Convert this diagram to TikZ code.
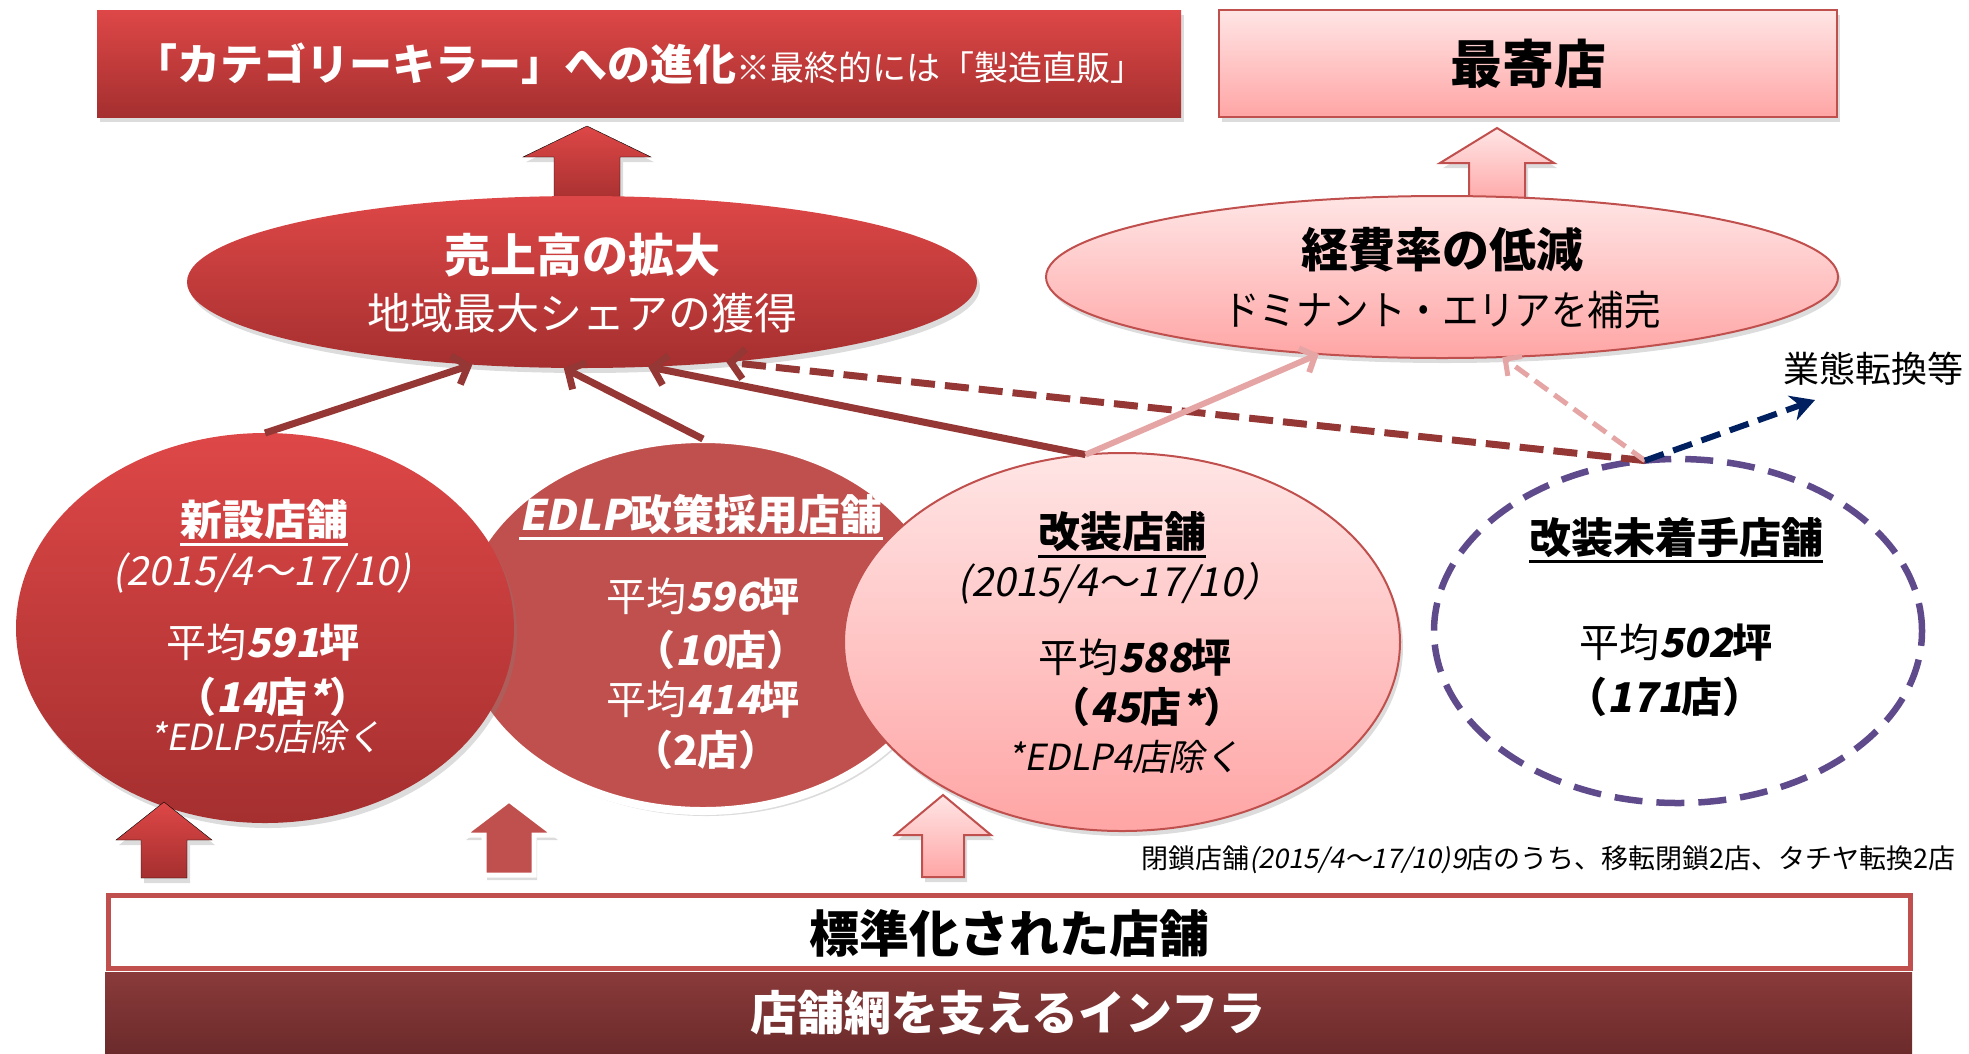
\documentclass[tikz,border=0pt]{standalone}
\usepackage{fontspec}
\setmainfont{Noto Sans CJK JP}[AutoFakeSlant=0.2]
\newfontfamily\slfont{Noto Sans CJK JP}[FakeSlant=0.2]
\usetikzlibrary{shapes.geometric,arrows.meta,shadows}

\definecolor{dred}{HTML}{C0504D}
\definecolor{rtop}{HTML}{DE4747}
\definecolor{rbot}{HTML}{A52F2F}
\definecolor{ptop}{HTML}{FFE5E5}
\definecolor{pbot}{HTML}{FFA5A5}
\definecolor{conn}{HTML}{953735}
\definecolor{pconn}{HTML}{E6A5A5}
\definecolor{purp}{HTML}{5F4B8B}
\definecolor{navy}{HTML}{002060}
\definecolor{infra}{HTML}{652727}
\definecolor{infratop}{HTML}{8A3A3A}

\newcommand\fsz[1]{\fontsize{#1}{#1}\selectfont}
\newcommand\bsl[1]{{\slfont\bfseries #1}}
\newcommand\ulw[1]{\setbox0=\hbox{#1}\rlap{\copy0}\rule[-0.24em]{\wd0}{0.07em}}
\newcommand\blkup[7]{\draw[#1] (#2,#3) -- (#2+#6,#4) -- (#2+#7,#4) -- (#2+#7,#5) -- (#2-#7,#5) -- (#2-#7,#4) -- (#2-#6,#4) -- cycle;}

\begin{document}
\begin{tikzpicture}[x=1pt,y=-1pt,
  every node/.style={inner sep=0pt, outer sep=0pt},
  redfill/.style={top color=rtop, bottom color=rbot},
  pinkfill/.style={top color=ptop, bottom color=pbot, draw=dred, line width=2pt},
  shadowed/.style={drop shadow={opacity=0.28, shadow xshift=3pt, shadow yshift=-5pt}},
  csolid/.style={draw=conn, line width=7pt, -{Straight Barb[length=13pt,width=30pt]}},
  cdash/.style={draw=conn, line width=7pt, dash pattern=on 24pt off 10pt, -{Straight Barb[length=13pt,width=30pt]}},
  psolid/.style={draw=pconn, line width=6pt, -{Straight Barb[length=12pt,width=26pt]}},
  pdash/.style={draw=pconn, line width=5pt, dash pattern=on 16pt off 8pt, -{Straight Barb[length=12pt,width=24pt]}},
  ndash/.style={draw=navy, line width=6pt, dash pattern=on 20pt off 10pt, -{Stealth[length=24pt,width=26pt]}},
  wt/.style={text=white},
  bk/.style={text=black}]
\useasboundingbox (0,0) rectangle (1969,1053);

% top boxes
\node[rectangle, redfill, shadowed, minimum width=1084pt, minimum height=107pt] (topl) at (639,63.5) {};
\node[rectangle, pinkfill, shadowed, minimum width=618pt, minimum height=107pt] (topr) at (1528,63.5) {};

% top block arrows
\blkup{redfill, shadowed}{587}{126}{157}{205}{64}{33}
\blkup{pinkfill, shadowed}{1497}{128}{163}{205}{57}{28}

% goal ellipses
\node[ellipse, redfill, shadowed, minimum width=790pt, minimum height=172pt] (uri) at (582,282) {};
\node[ellipse, pinkfill, shadowed, minimum width=792pt, minimum height=162pt] (kei) at (1442,277) {};

% store ellipses
\node[ellipse, fill=dred, draw=white, line width=8pt, shadowed, minimum width=490pt, minimum height=372pt] (edlp) at (703,625) {};
\node[ellipse, redfill, shadowed, minimum width=498pt, minimum height=390pt] (shin) at (265,628) {};
\node[ellipse, pinkfill, shadowed, minimum width=556pt, minimum height=378pt] (kai) at (1122,642) {};
\node[ellipse, draw=purp, line width=6.5pt, dash pattern=on 28pt off 14pt, minimum width=488pt, minimum height=344pt] (mi) at (1678,631) {};

% connectors
\coordinate (navyend) at (1815,400);
\draw[csolid] (shin.north) -- (uri.217);
\draw[csolid] (edlp.north) -- (uri.258);
\draw[csolid] (kai.101) -- (uri.308);
\draw[cdash] (mi.101) -- (uri.331);
\draw[psolid] (kai.101) -- (kei.212);
\draw[pdash] (mi.101) -- (kei.307);
\draw[ndash] (mi.101) -- (navyend);

% bottom block arrows
\blkup{redfill, shadowed}{164}{802}{840}{878}{48}{23}
\blkup{fill=dred, draw=white, line width=5pt, line join=miter, shadowed}{509}{800}{835}{875}{46}{25}
\blkup{pinkfill, shadowed}{943}{795}{835}{877}{48}{21}

% bottom boxes
\node[rectangle, fill=white, draw=dred, line width=5pt, minimum width=1802pt, minimum height=73pt] (std) at (1009,931.5) {};
\node[rectangle, top color=infratop, bottom color=infra, minimum width=1807pt, minimum height=100pt, anchor=north west] (inf) at (105,972) {};

% texts
\node[wt] (topl-t) at (topl.center) {\fsz{43}\bfseries 「カテゴリーキラー」への進化\fsz{34}\mdseries ※最終的には「製造直販」};
\node[bk] (topr-t) at (topr.center) {\fsz{52}\bfseries 最寄店};

\node[wt] (uri-t1) at (582,255) {\fsz{46}\bfseries 売上高の拡大};
\node[wt] (uri-t2) at (582,313) {\fsz{43}地域最大シェアの獲得};
\node[bk] (kei-t1) at (1442,250) {\fsz{47}\bfseries 経費率の低減};
\node[bk] (kei-t2) at (1442,310) {\fsz{41}\scalebox{0.89}[1]{ドミナント・エリアを補完}};

\node[wt] (shin-t1) at (264,523) {\fsz{42}\bfseries\ulw{新設店舗}};
\node[wt] (shin-t2) at (262,573) {\fsz{40}\itshape (2015/4～17/10)};
\node[wt] (shin-t3) at (263,643) {\fsz{40}平均\bsl{591}\bfseries 坪};
\node[wt] (shin-t4) at (273,697) {\fsz{41}\bfseries （\bsl{14}店\bsl{*}）};
\node[wt] (shin-t5) at (266,737) {\fsz{36}\itshape *EDLP5店除く};

\node[wt] (edlp-t1) at (701,517) {\fsz{42}\bfseries\ulw{\bsl{EDLP}政策採用店舗}};
\node[wt] (edlp-t2) at (703,597) {\fsz{40}平均\bsl{596}\bfseries 坪};
\node[wt] (edlp-t3) at (721,650) {\fsz{41}\bfseries （\bsl{10}店）};
\node[wt] (edlp-t4) at (703,700) {\fsz{40}平均\bsl{414}\bfseries 坪};
\node[wt] (edlp-t5) at (706,750) {\fsz{41}\bfseries （2店）};

\node[bk] (kai-t1) at (1122,535) {\fsz{42}\bfseries\ulw{改装店舗}};
\node[bk] (kai-t2) at (1120,583) {\fsz{40}\itshape (2015/4～17/10）};
\node[bk] (kai-t3) at (1135,658) {\fsz{40}平均\bsl{588}\bfseries 坪};
\node[bk] (kai-t4) at (1147,707) {\fsz{41}\bfseries （\bsl{45}店\bsl{*}）};
\node[bk] (kai-t5) at (1124,757) {\fsz{36}\itshape *EDLP4店除く};

\node[bk] (mi-t1) at (1676,540) {\fsz{42}\bfseries\ulw{改装未着手店舗}};
\node[bk] (mi-t2) at (1676,643) {\fsz{40}平均\bsl{502}\bfseries 坪};
\node[bk] (mi-t3) at (1665,697) {\fsz{41}\bfseries （\bsl{171}店）};

\node[bk] (gyo) at (1873,369) {\fsz{36}業態転換等};
\node[bk, anchor=east] (note) at (1955,860) {\fsz{27}閉鎖店舗\itshape (2015/4～17/10)9\upshape 店のうち、移転閉鎖2店、タチヤ転換2店};

\node[bk] (std-t) at (1009,933) {\fsz{50}\bfseries 標準化された店舗};
\node[wt] (inf-t) at (1008,1013) {\fsz{47}\bfseries 店舗網を支えるインフラ};
\end{tikzpicture}
\end{document}
